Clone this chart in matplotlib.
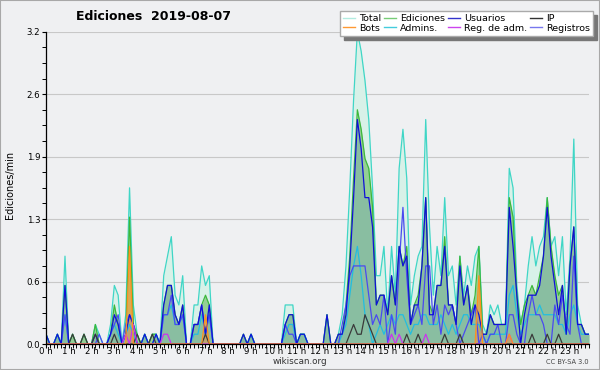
import numpy as np
import matplotlib
matplotlib.use("Agg")
import matplotlib.pyplot as plt
from matplotlib.lines import Line2D
from matplotlib.patches import Rectangle

# 10-minute bins, 0:00 .. 23:50 (edits per minute)
hour_labels = [f"{h} h" for h in range(24)]
ytick_vals = [0, 0.64, 1.28, 1.92, 2.56, 3.2]
ytick_labels = ["0.0", "0.6", "1.3", "1.9", "2.6", "3.2"]

total = [
    0.1, 0, 0, 0.1, 0, 0.9,   0, 0.1, 0, 0, 0.1, 0,
    0, 0.2, 0.1, 0, 0, 0.2,   0.6, 0.5, 0, 0.3, 1.6, 0.4,
    0.1, 0, 0.1, 0, 0.1, 0.1,   0, 0.7, 0.9, 1.1, 0.5, 0.4,
    0.7, 0, 0, 0.4, 0.4, 0.8,   0.6, 0.7, 0, 0, 0, 0,
    0, 0, 0, 0, 0.1, 0,   0.1, 0, 0, 0, 0, 0,
    0, 0, 0, 0.4, 0.4, 0.4,   0, 0.1, 0.1, 0, 0, 0,
    0, 0, 0.3, 0, 0, 0.1,   0.3, 0.8, 1.6, 2.5, 3.2, 3.0,
    2.7, 2.3, 1.6, 0.7, 0.7, 1.0,   0.3, 1.0, 0.5, 1.8, 2.2, 1.7,
    0.4, 0.7, 0.9, 1.0, 2.3, 1.2,   0.5, 1.0, 0.7, 1.5, 0.7, 0.8,
    0.4, 0.9, 0.5, 0.8, 0.6, 0.9,   1.0, 0.2, 0.1, 0.4, 0.3, 0.4,
    0.2, 0.2, 1.8, 1.6, 0.6, 0.2,   0.4, 0.8, 1.1, 0.8, 1.0, 1.1,
    1.5, 1.0, 1.1, 0.7, 1.1, 0.3,   0.9, 2.1, 0.4, 0.2, 0.1, 0.1,
]
ediciones = [
    0.1, 0, 0, 0.1, 0, 0.6,   0, 0.1, 0, 0, 0.1, 0,
    0, 0.2, 0, 0, 0, 0.1,   0.4, 0.2, 0, 0.1, 1.3, 0.2,
    0.1, 0, 0.1, 0, 0.1, 0.1,   0, 0.4, 0.6, 0.6, 0.3, 0.2,
    0.4, 0, 0, 0.2, 0.2, 0.4,   0.5, 0.4, 0, 0, 0, 0,
    0, 0, 0, 0, 0.1, 0,   0.1, 0, 0, 0, 0, 0,
    0, 0, 0, 0.2, 0.3, 0.3,   0, 0.1, 0.1, 0, 0, 0,
    0, 0, 0.3, 0, 0, 0.1,   0.1, 0.4, 0.9, 1.7, 2.4, 2.2,
    1.9, 1.8, 1.4, 0.4, 0.5, 0.5,   0.3, 0.7, 0.4, 1.0, 0.8, 1.0,
    0.2, 0.4, 0.5, 0.8, 1.5, 0.4,   0.3, 0.6, 0.6, 1.1, 0.4, 0.4,
    0.2, 0.9, 0.4, 0.6, 0.3, 0.5,   1.0, 0.1, 0.1, 0.3, 0.2, 0.2,
    0.2, 0.2, 1.5, 1.3, 0.5, 0.2,   0.4, 0.5, 0.6, 0.5, 0.7, 0.9,
    1.5, 1.0, 0.7, 0.5, 0.6, 0.1,   0.8, 1.2, 0.2, 0.2, 0.1, 0.1,
]
usuarios = [
    0.1, 0, 0, 0.1, 0, 0.6,   0, 0, 0, 0, 0, 0,
    0, 0.1, 0, 0, 0, 0.1,   0.3, 0.2, 0, 0.1, 0.3, 0.2,
    0, 0, 0.1, 0, 0, 0.1,   0, 0.4, 0.6, 0.6, 0.3, 0.2,
    0.4, 0, 0, 0.2, 0.2, 0.4,   0.1, 0.4, 0, 0, 0, 0,
    0, 0, 0, 0, 0.1, 0,   0.1, 0, 0, 0, 0, 0,
    0, 0, 0, 0.2, 0.3, 0.3,   0, 0.1, 0.1, 0, 0, 0,
    0, 0, 0.3, 0, 0, 0.1,   0.1, 0.3, 0.8, 1.5, 2.3, 2.0,
    1.5, 1.5, 1.2, 0.4, 0.5, 0.5,   0.3, 0.7, 0.4, 1.0, 0.8, 0.9,
    0.2, 0.4, 0.4, 0.8, 1.5, 0.3,   0.3, 0.6, 0.6, 1.0, 0.4, 0.4,
    0.2, 0.8, 0.4, 0.6, 0.2, 0.4,   0.3, 0.1, 0.1, 0.3, 0.2, 0.2,
    0.2, 0.2, 1.4, 1.0, 0.5, 0,   0.3, 0.5, 0.5, 0.5, 0.6, 0.9,
    1.4, 0.9, 0.6, 0.3, 0.6, 0.1,   0.8, 1.2, 0.2, 0.2, 0.1, 0.1,
]
ip = [
    0, 0, 0, 0, 0, 0,   0, 0.1, 0, 0, 0.1, 0,
    0, 0.1, 0, 0, 0, 0,   0.1, 0, 0, 0, 0, 0,
    0.1, 0, 0, 0, 0.1, 0,   0, 0, 0, 0, 0, 0,
    0, 0, 0, 0, 0, 0,   0.1, 0, 0, 0, 0, 0,
    0, 0, 0, 0, 0, 0,   0, 0, 0, 0, 0, 0,
    0, 0, 0, 0, 0, 0,   0, 0, 0, 0, 0, 0,
    0, 0, 0, 0, 0, 0,   0, 0, 0.1, 0.2, 0.1, 0.1,
    0.3, 0.2, 0.1, 0, 0, 0,   0, 0, 0, 0, 0, 0.1,
    0, 0, 0.1, 0, 0, 0,   0, 0, 0, 0.1, 0, 0,
    0, 0.1, 0, 0, 0, 0,   0, 0, 0, 0, 0, 0,
    0, 0, 0, 0, 0, 0,   0, 0, 0.1, 0, 0, 0,
    0.1, 0, 0, 0.1, 0, 0,   0, 0, 0, 0, 0, 0,
]
bots = [
    0, 0, 0, 0, 0, 0,   0, 0, 0, 0, 0, 0,
    0, 0, 0, 0, 0, 0,   0, 0, 0, 0, 1.0, 0,
    0, 0, 0, 0, 0, 0,   0, 0, 0, 0, 0, 0,
    0, 0, 0, 0, 0, 0,   0.3, 0, 0, 0, 0, 0,
    0, 0, 0, 0, 0, 0,   0, 0, 0, 0, 0, 0,
    0, 0, 0, 0, 0, 0,   0, 0, 0, 0, 0, 0,
    0, 0, 0, 0, 0, 0,   0, 0, 0, 0, 0, 0,
    0, 0, 0, 0, 0, 0,   0, 0, 0, 0, 0, 0,
    0, 0, 0, 0, 0, 0,   0, 0, 0, 0, 0, 0,
    0, 0, 0, 0, 0, 0,   0.7, 0, 0, 0, 0, 0,
    0, 0, 0.1, 0, 0, 0,   0, 0, 0, 0, 0, 0,
    0, 0, 0, 0, 0, 0,   0, 0, 0, 0, 0, 0,
]
admins = [
    0.1, 0, 0, 0.1, 0, 0.3,   0, 0, 0, 0, 0, 0,
    0, 0, 0, 0, 0, 0.1,   0.2, 0.1, 0, 0.1, 0.2, 0.1,
    0, 0, 0.1, 0, 0, 0.1,   0, 0.3, 0.3, 0.4, 0.2, 0.2,
    0.3, 0, 0, 0.1, 0.1, 0.3,   0.1, 0.3, 0, 0, 0, 0,
    0, 0, 0, 0, 0, 0,   0.1, 0, 0, 0, 0, 0,
    0, 0, 0, 0.1, 0.2, 0.2,   0, 0.1, 0.1, 0, 0, 0,
    0, 0, 0, 0, 0, 0,   0.1, 0.2, 0.5, 0.8, 1.0, 0.7,
    0.3, 0.2, 0, 0.1, 0.2, 0.1,   0.2, 0.3, 0.2, 0.3, 0.3, 0.2,
    0.1, 0.2, 0.2, 0.3, 0.3, 0.2,   0.2, 0.2, 0.3, 0.2, 0.1, 0.2,
    0.1, 0.2, 0.3, 0.3, 0.2, 0.2,   0.2, 0.1, 0, 0.1, 0.1, 0.1,
    0.1, 0.1, 0.5, 0.6, 0.3, 0.1,   0.2, 0.3, 0.3, 0.3, 0.4, 0.3,
    0.3, 0.3, 0.3, 0.2, 0.2, 0.1,   0.3, 0.4, 0.2, 0.1, 0.1, 0.1,
]
reg_adm = [
    0, 0, 0, 0, 0, 0,   0, 0, 0, 0, 0, 0,
    0, 0, 0, 0, 0, 0,   0, 0, 0, 0.1, 0, 0.2,
    0, 0, 0, 0, 0, 0,   0, 0.1, 0.1, 0, 0, 0,
    0, 0, 0, 0, 0, 0,   0, 0, 0, 0, 0, 0,
    0, 0, 0, 0, 0, 0,   0, 0, 0, 0, 0, 0,
    0, 0, 0, 0, 0, 0,   0, 0, 0, 0, 0, 0,
    0, 0, 0, 0, 0, 0,   0, 0, 0, 0, 0, 0,
    0, 0, 0, 0, 0, 0,   0, 0.1, 0, 0.1, 0, 0,
    0, 0, 0, 0, 0.1, 0,   0, 0, 0, 0, 0, 0,
    0, 0, 0, 0, 0, 0,   0, 0, 0, 0, 0, 0,
    0, 0, 0.1, 0, 0, 0,   0, 0, 0, 0, 0, 0,
    0, 0, 0, 0, 0, 0,   0, 0, 0, 0, 0, 0,
]
registros = [
    0, 0, 0, 0, 0, 0.3,   0, 0, 0, 0, 0, 0,
    0, 0, 0.1, 0, 0, 0.1,   0.2, 0.3, 0, 0.2, 0.3, 0.2,
    0, 0, 0, 0, 0, 0,   0, 0.3, 0.3, 0.5, 0.2, 0.2,
    0.3, 0, 0, 0.2, 0.2, 0.4,   0.1, 0.3, 0, 0, 0, 0,
    0, 0, 0, 0, 0, 0,   0, 0, 0, 0, 0, 0,
    0, 0, 0, 0.2, 0.1, 0.1,   0, 0, 0, 0, 0, 0,
    0, 0, 0, 0, 0, 0,   0.2, 0.4, 0.7, 0.8, 0.8, 0.8,
    0.8, 0.5, 0.2, 0.3, 0.2, 0.5,   0, 0.3, 0.1, 0.8, 1.4, 0.7,
    0.2, 0.3, 0.4, 0.2, 0.8, 0.8,   0.2, 0.4, 0.1, 0.4, 0.3, 0.4,
    0.2, 0, 0.1, 0.2, 0.3, 0.4,   0, 0.1, 0, 0.1, 0.1, 0.2,
    0, 0, 0.3, 0.3, 0.1, 0,   0, 0.3, 0.5, 0.3, 0.3, 0.2,
    0, 0, 0.4, 0.2, 0.5, 0.2,   0.1, 0.9, 0.2, 0, 0, 0,
]

series = [total, ediciones, usuarios, ip, bots, admins, reg_adm, registros]
assert all(len(s) == 144 for s in series)

x = np.arange(144) / 6.0

BG = "#eff0f2"
fig = plt.figure(figsize=(6, 3.7), dpi=100, facecolor=BG)
ax = fig.add_axes([46 / 600, 26 / 370, 543 / 600, 312.3 / 370])
ax.set_facecolor(BG)

# fills
ax.fill_between(x, 0, total, color="#d8f1e8", lw=0, zorder=1)
ax.fill_between(x, 0, ediciones, color="#94cf94", lw=0, zorder=2)
ax.fill_between(x, 0, bots, color="#f0a040", alpha=0.75, lw=0, zorder=3)
ax.fill_between(x, 0, usuarios, color="#6a8ccc", alpha=0.24, lw=0, zorder=3)

lw = 0.9
ax.plot(x, total, color="#3fd6c6", lw=lw, zorder=4)
ax.plot(x, ediciones, color="#3cb83c", lw=lw, zorder=5)
ax.plot(x, admins, color="#22bde0", lw=lw, zorder=6)
ax.plot(x, registros, color="#4a4af0", lw=lw, zorder=6)
ax.plot(x, usuarios, color="#1010d8", lw=lw, zorder=7)
ax.plot(x, ip, color="#3a3a3a", lw=lw, zorder=7)
ax.plot(x, reg_adm, color="#cc33ee", lw=lw, zorder=8)
ax.plot(x, bots, color="#ff9020", lw=lw, zorder=8)

ax.set_xlim(0, 143 / 6)
ax.set_ylim(0, 3.2)

ax.set_yticks(ytick_vals)
ax.set_yticklabels(ytick_labels)
ax.set_yticks(np.arange(0, 3.21, 0.16), minor=True)
ax.set_xticks(range(24))
ax.set_xticklabels(hour_labels)
ax.set_xticks(np.arange(0, 143 / 6 + 0.01, 1 / 6), minor=True)
ax.tick_params(axis="y", which="major", length=3, width=0.8,
               labelsize=6.2, direction="out", pad=1.0, colors="black")
ax.tick_params(axis="x", which="major", length=2.6, width=0.8,
               labelsize=6.2, direction="out", pad=-0.6, colors="black")
ax.tick_params(axis="both", which="minor", length=2.6, width=0.7,
               direction="out")
ax.grid(axis="y", which="major", color="#c8c8c8", lw=0.8)
ax.set_axisbelow(True)
for s in ["top", "right"]:
    ax.spines[s].set_visible(False)
for s in ["left", "bottom"]:
    ax.spines[s].set_color("black")
    ax.spines[s].set_linewidth(0.9)
    ax.spines[s].set_zorder(10)

fig.text(154 / 600, 1 - 16 / 370, "Ediciones  2019-08-07", fontsize=9,
         weight="bold", ha="center", va="center")
fig.text(10 / 600, 1 - 185 / 370, "Ediciones/min", rotation=90,
         fontsize=7, ha="center", va="center")
fig.text(300 / 600, 1 - 362 / 370, "wikiscan.org", fontsize=6.3,
         ha="center", va="center", color="#333333")
fig.text(589 / 600, 1 - 362.5 / 370, "CC BY-SA 3.0", fontsize=4.8,
         ha="right", va="center", color="#444444")

# legend (column-major order for 2 rows x 4 cols)
labels = ["Total", "Bots", "Ediciones", "Admins.", "Usuarios",
          "Reg. de adm.", "IP", "Registros"]
colors = ["#b2ebe0", "#ff9933", "#77cc77", "#44ccdd", "#3333cc",
          "#cc44ee", "#333333", "#7777ee"]
handles = [Line2D([], [], color=c, lw=1.0) for c in colors]
fig.legend(handles, labels, ncol=4, loc="upper right",
           bbox_to_anchor=(593 / 600, 1 - 11 / 370),
           bbox_transform=fig.transFigure, fontsize=6.8,
           frameon=True, fancybox=False, edgecolor="#aaaaaa",
           facecolor="white", framealpha=1,
           shadow={"ox": 3, "oy": -3, "color": "#777777", "alpha": 1},
           borderpad=0.35, labelspacing=0.05, handlelength=1.3,
           handletextpad=0.35, columnspacing=0.35, borderaxespad=0)

fig.patches.append(Rectangle((0, 0), 1, 1, transform=fig.transFigure,
                             fill=False, edgecolor="#a8a8a8", lw=1.5))

fig.savefig("out.png", dpi=100, facecolor=BG)
